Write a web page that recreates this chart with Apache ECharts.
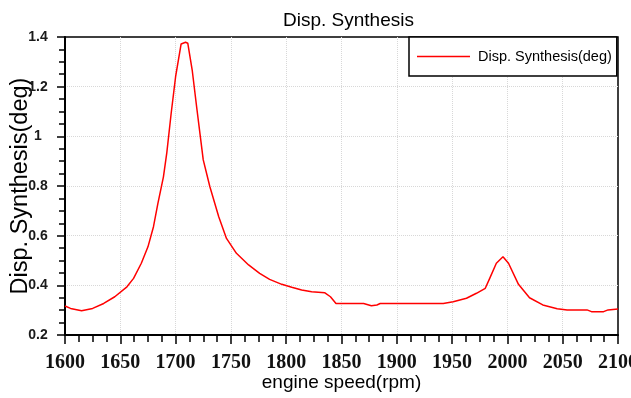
<!DOCTYPE html>
<html>
<head>
<meta charset="utf-8">
<script src="https://cdn.jsdelivr.net/npm/echarts@6/dist/echarts.min.js"></script>
<style>html,body{margin:0;padding:0;background:#fff;}#c{width:631px;height:398px;}</style>
</head>
<body>
<div id="c"></div>
<script>
const titleText = 'Disp. Synthesis';
const seriesName = 'Disp. Synthesis(deg)';
const xName = 'engine speed(rpm)';
const yName = 'Disp. Synthesis(deg)';
const rpm = [1600,1605,1615,1625,1635,1645,1656,1662,1669,1675,1680,1684,1689,1692,1696,1700,1705,1709,1711,1715,1719,1725,1731,1739,1746,1755,1766,1776,1785,1796,1805,1814,1823,1835,1840,1845,1870,1877,1882,1885,1942,1951,1963,1972,1980,1984,1990,1996,2001,2010,2020,2032,2045,2054,2072,2076,2087,2091,2100];
const disp = [0.317,0.307,0.298,0.307,0.327,0.354,0.394,0.428,0.489,0.555,0.636,0.730,0.837,0.932,1.093,1.240,1.372,1.379,1.375,1.267,1.119,0.905,0.797,0.676,0.589,0.529,0.482,0.448,0.424,0.404,0.392,0.381,0.374,0.370,0.354,0.327,0.327,0.318,0.321,0.327,0.327,0.334,0.348,0.368,0.388,0.428,0.489,0.515,0.489,0.404,0.350,0.321,0.306,0.301,0.301,0.294,0.294,0.301,0.305];

const SANS = "'Liberation Sans', Arial, sans-serif";
const chart = echarts.init(document.getElementById('c'), null, {renderer: 'canvas'});
chart.setOption({
  backgroundColor: '#fff',
  animation: false,
  title: {
    text: titleText, left: 278, top: 6,
    textStyle: {fontFamily: SANS, fontSize: 19, fontWeight: 'normal', color: '#000'}
  },
  legend: {
    data: [seriesName], left: 409, top: 37,
    padding: [12, 5, 12, 8],
    icon: 'rect',
    borderColor: '#000', borderWidth: 1.5, backgroundColor: '#fff',
    itemWidth: 53, itemHeight: 1.5,
    textStyle: {fontFamily: SANS, fontSize: 14.5, color: '#000', padding: [0, 0, 0, 3]}
  },
  grid: {left: 65, right: 13, top: 37, bottom: 63, outerBoundsMode: 'none', containLabel: false, show: true, borderColor: '#000', borderWidth: 1.5, backgroundColor: 'transparent'},
  xAxis: {
    type: 'value', min: 1600, max: 2100, interval: 50,
    name: xName, nameLocation: 'middle', nameGap: 38, nameMoveOverlap: false,
    nameTextStyle: {fontFamily: SANS, fontSize: 19, color: '#000'},
    axisLine: {lineStyle: {color: '#000', width: 2}},
    axisTick: {show: true, length: 9, lineStyle: {color: '#000', width: 1.5}},
    minorTick: {show: true, splitNumber: 4, length: 7, lineStyle: {color: '#000', width: 1.5}},
    axisLabel: {fontFamily: "'Liberation Serif', 'Times New Roman', serif", fontWeight: 'bold', fontSize: 20, color: '#111', margin: 18,
      formatter: v => String(v)},
    splitLine: {show: true, showMinLine: false, showMaxLine: false, lineStyle: {color: '#d8d8d8', type: 'dotted', width: 1}}
  },
  yAxis: {
    type: 'value', min: 0.2, max: 1.4, interval: 0.2,
    name: yName, nameLocation: 'middle', nameGap: 32, nameMoveOverlap: false,
    nameTextStyle: {fontFamily: SANS, fontSize: 23.5, color: '#000'},
    axisLine: {show: true, lineStyle: {color: '#000', width: 2}},
    axisTick: {show: true, length: 8, lineStyle: {color: '#000', width: 1.5}},
    minorTick: {show: true, splitNumber: 4, length: 6, lineStyle: {color: '#000', width: 1.5}},
    axisLabel: {fontFamily: SANS, fontWeight: 'bold', fontSize: 14, color: '#1a1a1a', align: 'center', margin: 27,
      formatter: v => String(Math.round(v * 10) / 10)},
    splitLine: {show: true, showMinLine: false, showMaxLine: false, lineStyle: {color: '#d8d8d8', type: 'dotted', width: 1}}
  },
  series: [{
    name: seriesName, type: 'line', symbol: 'none', showSymbol: false,
    data: rpm.map((r, i) => [r, disp[i]]),
    lineStyle: {color: '#ff0000', width: 1.5}, itemStyle: {color: '#ff0000'}
  }]
});
</script>
</body>
</html>
